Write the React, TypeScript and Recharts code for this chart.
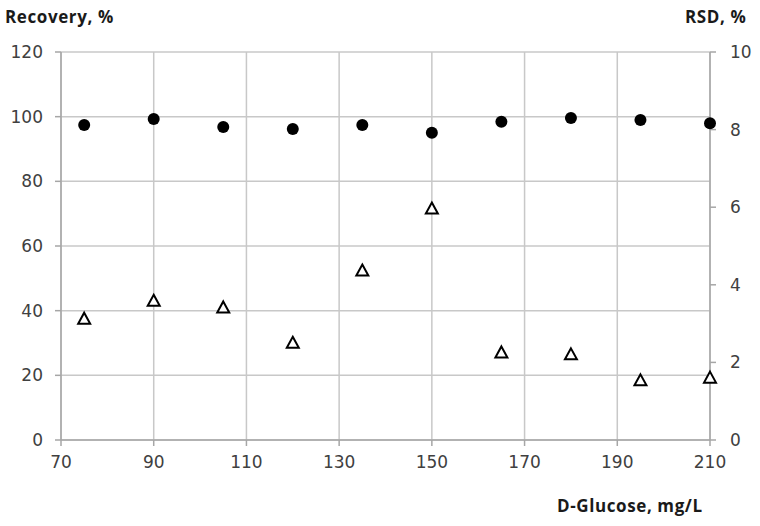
import {
  ScatterChart,
  Scatter,
  XAxis,
  YAxis,
  CartesianGrid,
} from "recharts";

const glucose = [75, 90, 105, 120, 135, 150, 165, 180, 195, 210];
const recovery = [97.4, 99.3, 96.8, 96.2, 97.4, 95.0, 98.4, 99.6, 99.0, 98.0];
const rsd = [3.14, 3.6, 3.43, 2.52, 4.38, 5.98, 2.27, 2.22, 1.55, 1.62];

const xTicks = [70, 90, 110, 130, 150, 170, 190, 210];
const leftTicks = [0, 20, 40, 60, 80, 100, 120];
const rightTicks = [0, 2, 4, 6, 8, 10];

const recoveryData = glucose.map((x, i) => ({ x, y: recovery[i] }));
const rsdData = glucose.map((x, i) => ({ x, y: rsd[i] }));

const tickStyle = { fontSize: 17, fill: "#404040", fontFamily: "DejaVu Sans" };
const axisColor = "#a6a6a6";

const Dot = (props: any) => {
  const { cx, cy } = props;
  if (cx == null || cy == null) return null;
  return <circle cx={cx} cy={cy} r={6} fill="#000" />;
};

const Tri = (props: any) => {
  const { cx, cy } = props;
  if (cx == null || cy == null) return null;
  const h = 11;
  const w = 12;
  const pts = `${cx},${cy - h / 2} ${cx + w / 2},${cy + h / 2} ${cx - w / 2},${cy + h / 2}`;
  return <polygon points={pts} fill="#fff" stroke="#000" strokeWidth={2} />;
};

const titleStyle: React.CSSProperties = {
  position: "absolute",
  fontFamily: "'Open Sans', sans-serif",
  fontWeight: 700,
  fontSize: 17,
  letterSpacing: 0.6,
  color: "#1a1a1a",
  whiteSpace: "nowrap",
};

export default function App() {
  return (
    <div style={{ position: "absolute", left: 0, top: 0, width: 760, height: 526, background: "#fff" }}>
      <ScatterChart
        width={760}
        height={526}
        margin={{ top: 52, right: 10, bottom: 56, left: 11 }}
      >
        <CartesianGrid yAxisId="left" stroke="#c8c8c8" strokeWidth={1.5} />
        <XAxis
          type="number"
          dataKey="x"
          domain={[70, 210]}
          ticks={xTicks}
          height={30}
          tick={tickStyle}
          tickSize={6}
          tickMargin={10}
          stroke={axisColor}
          strokeWidth={1.5}
        />
        <YAxis
          yAxisId="left"
          type="number"
          dataKey="y"
          domain={[0, 120]}
          ticks={leftTicks}
          width={50}
          tick={tickStyle}
          tickSize={6}
          tickMargin={12}
          stroke={axisColor}
          strokeWidth={1.5}
        />
        <YAxis
          yAxisId="right"
          orientation="right"
          type="number"
          dataKey="y"
          domain={[0, 10]}
          ticks={rightTicks}
          width={40}
          tick={tickStyle}
          tickSize={6}
          tickMargin={14}
          stroke={axisColor}
          strokeWidth={1.5}
        />
        <Scatter
          yAxisId="left"
          data={recoveryData}
          shape={Dot}
          isAnimationActive={false}
        />
        <Scatter
          yAxisId="right"
          data={rsdData}
          shape={Tri}
          isAnimationActive={false}
        />
      </ScatterChart>
      <div style={{ ...titleStyle, left: 5, top: 5 }}>Recovery, %</div>
      <div style={{ ...titleStyle, left: 685, top: 5 }}>RSD, %</div>
      <div style={{ ...titleStyle, left: 557, top: 494 }}>D-Glucose, mg/L</div>
    </div>
  );
}
